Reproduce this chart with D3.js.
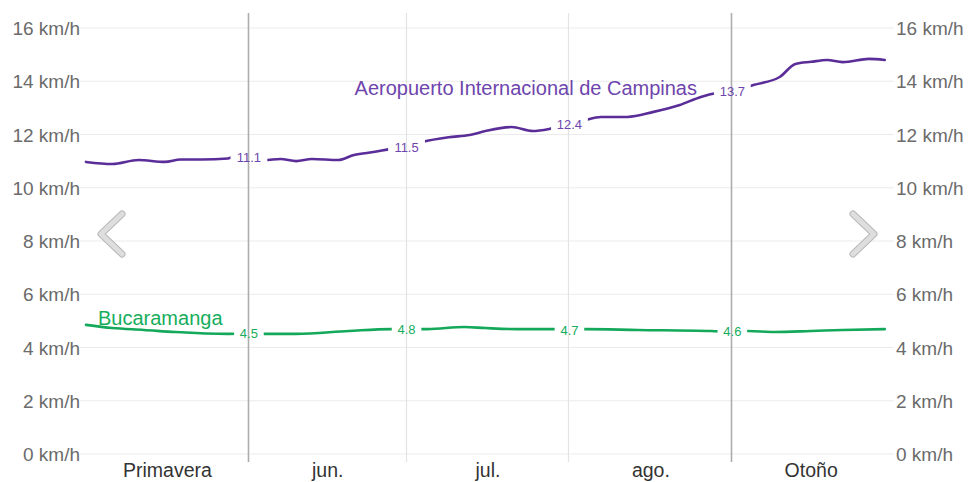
<!DOCTYPE html>
<html><head><meta charset="utf-8">
<script src="https://cdn.jsdelivr.net/npm/d3@7/dist/d3.min.js"></script>
<style>
html,body{margin:0;padding:0;background:#fff;}
svg{display:block;font-family:"Liberation Sans",Arial,sans-serif;}
</style></head>
<body>
<svg id="chart" width="968" height="482"></svg>
<script>
// ---- data ----
const periodLabels = ["Primavera", "jun.", "jul.", "ago.", "Otoño"];
const periodStarts = ["2023-05-01", "2023-06-01", "2023-07-01", "2023-08-01", "2023-09-01", "2023-10-01"];
const strongBoundaries = ["2023-06-01", "2023-09-01"];
const yTicks = [0, 2, 4, 6, 8, 10, 12, 14, 16];

const campinasDates = ["2023-05-01","2023-05-06","2023-05-11","2023-05-16","2023-05-19","2023-05-23","2023-05-28","2023-05-29","2023-06-01",
  "2023-06-04","2023-06-07","2023-06-10","2023-06-13","2023-06-18","2023-06-21","2023-06-25","2023-06-28","2023-07-01",
  "2023-07-04","2023-07-09","2023-07-13","2023-07-16","2023-07-21","2023-07-25","2023-07-29","2023-08-01",
  "2023-08-04","2023-08-07","2023-08-12","2023-08-17","2023-08-22","2023-08-26","2023-08-29","2023-09-01",
  "2023-09-05","2023-09-10","2023-09-13","2023-09-16","2023-09-19","2023-09-22","2023-09-27","2023-09-30"];
const campinasValues = [10.97,10.89,11.04,10.97,11.06,11.06,11.10,11.15,11.12,
  11.04,11.08,11.00,11.08,11.04,11.23,11.35,11.46,11.53,
  11.72,11.90,11.98,12.13,12.28,12.13,12.24,12.36,
  12.54,12.66,12.66,12.85,13.11,13.41,13.56,13.62,
  13.86,14.16,14.65,14.73,14.80,14.72,14.84,14.80];

const bucaDates = ["2023-05-01","2023-05-06","2023-05-12","2023-05-18","2023-05-28","2023-06-01",
  "2023-06-04","2023-06-10","2023-06-20","2023-06-28","2023-07-01",
  "2023-07-05","2023-07-12","2023-07-16","2023-07-22","2023-07-29","2023-08-01",
  "2023-08-04","2023-08-14","2023-08-28","2023-09-01",
  "2023-09-04","2023-09-09","2023-09-16","2023-09-22","2023-09-30"];
const bucaValues = [4.85,4.73,4.66,4.58,4.51,4.52,
  4.51,4.51,4.62,4.69,4.69,
  4.69,4.77,4.73,4.69,4.69,4.64,
  4.69,4.66,4.62,4.59,
  4.62,4.58,4.62,4.66,4.69];

const markDates = ["2023-06-01", "2023-07-01", "2023-08-01", "2023-09-01"];
const campinasMarks = ["11.1", "11.5", "12.4", "13.7"];
const bucaMarks = ["4.5", "4.8", "4.7", "4.6"];

const seriesNames = ["Aeropuerto Internacional de Campinas", "Bucaramanga"];
const unit = " km/h";

// ---- drawing ----
const parse = d3.timeParse("%Y-%m-%d");
const svg = d3.select("#chart");
const plotLeft = 86, plotRight = 890, plotTop = 28, plotBottom = 454;

const x = d3.scaleTime().domain([parse(periodStarts[0]), parse(periodStarts[periodStarts.length-1])]).range([plotLeft, plotRight]);
const y = d3.scaleLinear().domain([0, 16]).range([plotBottom, plotTop]);

// horizontal grid
svg.append("g").selectAll("line").data(yTicks).join("line")
  .attr("x1", 80).attr("x2", 894)
  .attr("y1", d => y(d)).attr("y2", d => y(d))
  .attr("stroke", "#ebebeb").attr("stroke-width", 1);

// left & right axis labels
const axisFont = "'Liberation Sans',Arial,sans-serif";
const leftAxis = d3.axisLeft(y).tickValues(yTicks).tickSize(0).tickPadding(0).tickFormat(d => d + unit);
const gl = svg.append("g").attr("transform", "translate(80,0)").call(leftAxis);
gl.select(".domain").remove();
gl.selectAll("text").attr("fill", "#6b6b6b").style("font-size", "19px").style("font-family", axisFont).attr("dy", "0.35em");

const rightAxis = d3.axisRight(y).tickValues(yTicks).tickSize(0).tickPadding(0).tickFormat(d => d + unit);
const gr = svg.append("g").attr("transform", "translate(896,0)").call(rightAxis);
gr.select(".domain").remove();
gr.selectAll("text").attr("fill", "#6b6b6b").style("font-size", "19px").style("font-family", axisFont).attr("dy", "0.35em");

// vertical boundaries
const inner = periodStarts.slice(1, -1);
svg.append("g").selectAll("line").data(inner).join("line")
  .attr("x1", d => Math.round(x(parse(d))) - 0.5).attr("x2", d => Math.round(x(parse(d))) - 0.5)
  .attr("y1", 13).attr("y2", 462)
  .attr("stroke", d => strongBoundaries.includes(d) ? "#adadad" : "#e3e3e3")
  .attr("stroke-width", d => strongBoundaries.includes(d) ? 1.6 : 1.2);

// period labels
svg.append("g").selectAll("text").data(periodLabels).join("text")
  .attr("x", (d, i) => (x(parse(periodStarts[i])) + x(parse(periodStarts[i+1]))) / 2)
  .attr("y", 477)
  .attr("text-anchor", "middle")
  .attr("fill", "#333").style("font-size", "19.5px")
  .text(d => d);

// series
const series = [
  {dates: campinasDates, values: campinasValues, marks: campinasMarks, color: "#5a2d98", text: "#6e45ad", name: seriesNames[0]},
  {dates: bucaDates, values: bucaValues, marks: bucaMarks, color: "#13a85a", text: "#16ad5c", name: seriesNames[1]}
];

const defs = svg.append("defs");
const line = d3.line().curve(d3.curveMonotoneX).x(d => x(d.t)).y(d => y(d.v));

series.forEach((s, si) => {
  const pts = s.dates.map((d, i) => ({t: parse(d), v: s.values[i]}));
  const bis = d3.bisector(d => d.t).left;
  const valAt = t => {
    const i = bis(pts, t);
    if (i <= 0) return pts[0].v;
    if (i >= pts.length) return pts[pts.length-1].v;
    const a = pts[i-1], b = pts[i];
    if (+a.t === +t) return a.v;
    if (+b.t === +t) return b.v;
    const f = (t - a.t) / (b.t - a.t);
    return a.v + f * (b.v - a.v);
  };
  const marks = markDates.map((d, i) => ({t: parse(d), v: valAt(parse(d)), label: s.marks[i]}));

  const mask = defs.append("mask").attr("id", "m" + si).attr("maskUnits", "userSpaceOnUse")
    .attr("x", 0).attr("y", 0).attr("width", 968).attr("height", 482);
  mask.append("rect").attr("x", 0).attr("y", 0).attr("width", 968).attr("height", 482).attr("fill", "#fff");
  const fontSize = 13;
  marks.forEach(m => {
    const w = m.label.length * 7.2 + 8;
    mask.append("rect")
      .attr("x", x(m.t) - w / 2).attr("y", y(m.v) - 10)
      .attr("width", w).attr("height", 20).attr("fill", "#000");
  });

  svg.append("path").datum(pts)
    .attr("d", line)
    .attr("fill", "none")
    .attr("stroke", s.color)
    .attr("stroke-width", 2.6)
    .attr("stroke-linecap", "round")
    .attr("mask", "url(#m" + si + ")");

  svg.append("g").selectAll("text").data(marks).join("text")
    .attr("x", d => x(d.t)).attr("y", d => y(d.v))
    .attr("dy", "0.35em")
    .attr("text-anchor", "middle")
    .attr("fill", s.text)
    .style("font-size", fontSize + "px")
    .text(d => d.label);
});

// series name labels
svg.append("text").attr("x", 697).attr("y", 95).attr("text-anchor", "end")
  .attr("fill", "#6e45ad").style("font-size", "20px").text(seriesNames[0]);
svg.append("text").attr("x", 98).attr("y", 325).attr("text-anchor", "start")
  .attr("fill", "#16ad5c").style("font-size", "20px").text(seriesNames[1]);

// navigation chevrons
const chev = (pts) => {
  const p = d3.line()(pts);
  svg.append("path").attr("d", p).attr("fill", "none").attr("stroke", "#b8b8b8")
    .attr("stroke-width", 7).attr("stroke-linecap", "round").attr("stroke-linejoin", "round");
  svg.append("path").attr("d", p).attr("fill", "none").attr("stroke", "#dedede")
    .attr("stroke-width", 5).attr("stroke-linecap", "round").attr("stroke-linejoin", "round");
};
chev([[122, 214], [101, 234], [122, 254]]);
chev([[853, 214], [874, 234], [853, 254]]);
</script>
</body></html>
